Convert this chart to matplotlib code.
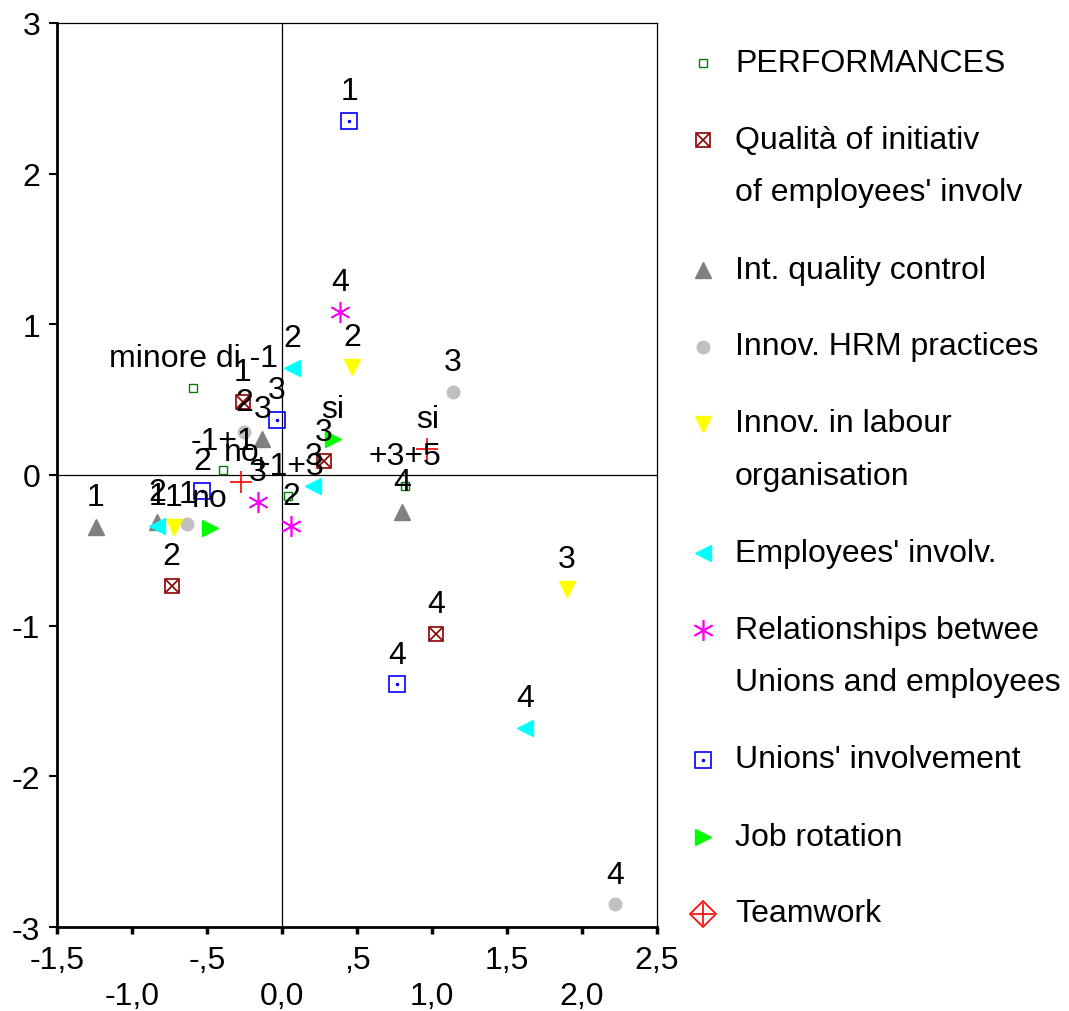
import matplotlib.pyplot as plt
from matplotlib.lines import Line2D

plt.rcParams['font.family'] = ['Liberation Sans', 'DejaVu Sans']

# category points
perf_x = [-0.59, -0.39, 0.04, 0.82]
perf_y = [0.58, 0.03, -0.14, -0.07]
perf_lab = ['minore di -1', '-1+1', '+1+3', '+3+5']

qual_x = [-0.26, -0.735, 0.28, 1.03]
qual_y = [0.485, -0.735, 0.09, -1.055]
qual_lab = ['1', '2', '3', '4']

iqc_x = [-1.24, -0.83, -0.13, 0.80]
iqc_y = [-0.345, -0.31, 0.24, -0.245]
iqc_lab = ['1', '2', '3', '4']

hrm_x = [-0.63, -0.25, 1.14, 2.22]
hrm_y = [-0.325, 0.285, 0.55, -2.85]
hrm_lab = ['1', '2', '3', '4']

lab_x = [-0.72, 0.47, 1.90]
lab_y = [-0.345, 0.715, -0.755]
lab_lab = ['1', '2', '3']

emp_x = [-0.83, 0.07, 0.21, 1.62]
emp_y = [-0.34, 0.71, -0.075, -1.68]
emp_lab = ['1', '2', '3', '4']

rel_x = [0.06, -0.16, 0.39]
rel_y = [-0.34, -0.18, 1.08]
rel_lab = ['2', '3', '4']

uni_x = [0.45, -0.53, -0.035, 0.77]
uni_y = [2.35, -0.105, 0.365, -1.39]
uni_lab = ['1', '2', '3', '4']

job_x = [-0.48, 0.34]
job_y = [-0.35, 0.24]
job_lab = ['no', 'si']

team_x = [-0.27, 0.97]
team_y = [-0.045, 0.175]
team_lab = ['no', 'si']

x_ticks = [-1.5, -1.0, -0.5, 0.0, 0.5, 1.0, 1.5, 2.0, 2.5]
x_tick_labels = ['-1,5', '\n-1,0', '-,5', '\n0,0', ',5', '\n1,0', '1,5', '\n2,0', '2,5']
y_ticks = [-3, -2, -1, 0, 1, 2, 3]

legend_labels = ['PERFORMANCES', "Qualità of initiativ\nof employees' involv",
                 'Int. quality control', 'Innov. HRM practices',
                 'Innov. in labour\norganisation', "Employees' involv.",
                 'Relationships betwee\nUnions and employees', "Unions' involvement",
                 'Job rotation', 'Teamwork']

FS = 23
W, H = 1069, 1012

fig = plt.figure(figsize=(W / 100, H / 100), dpi=100)
ax = fig.add_axes([0.0533, 0.083, 0.5613, 0.8933])

ax.axhline(0, color='black', lw=0.9, zorder=1)
ax.axvline(0, color='black', lw=0.9, zorder=1)

# marker styles, one list of Line2D kwargs per series (several = overlaid)
styles = [
    [dict(marker='s', ms=6, mfc='none', mec='#008000', mew=1)],
    [dict(marker='s', ms=10, mfc='none', mec='#8B0000', mew=1.2),
     dict(marker='x', ms=8, mec='#8B0000', mew=1.2)],
    [dict(marker='^', ms=12, color='#808080')],
    [dict(marker='o', ms=9, color='#C0C0C0')],
    [dict(marker='v', ms=12, color='#FFFF00')],
    [dict(marker='<', ms=12, color='#00FFFF')],
    [dict(marker=(6, 2, 0), ms=15, mec='#FF00FF', mew=1.2)],
    [dict(marker='s', ms=11, mfc='none', mec='#0000FF', mew=1.2),
     dict(marker='.', ms=3, color='#0000FF')],
    [dict(marker='>', ms=12, color='#00FF00')],
    [dict(marker='+', ms=16, mec='#FF0000', mew=1.2)],
]
legend_styles = list(styles)
legend_styles[9] = [dict(marker='D', ms=13, mfc='none', mec='#FF0000', mew=1.2),
                    dict(marker='+', ms=16, mec='#FF0000', mew=1.2)]

series = [(perf_x, perf_y, perf_lab), (qual_x, qual_y, qual_lab),
          (iqc_x, iqc_y, iqc_lab), (hrm_x, hrm_y, hrm_lab),
          (lab_x, lab_y, lab_lab), (emp_x, emp_y, emp_lab),
          (rel_x, rel_y, rel_lab), (uni_x, uni_y, uni_lab),
          (job_x, job_y, job_lab), (team_x, team_y, team_lab)]

for (xs, ys, labs), style in zip(series, styles):
    for st in style:
        ax.plot(xs, ys, ls='none', zorder=3, **st)
    for x, y, t in zip(xs, ys, labs):
        ax.annotate(t, (x, y), xytext=(0, 21.5), textcoords='offset points',
                    ha='center', va='center', fontsize=FS, zorder=5)

ax.set_xlim(-1.5, 2.5)
ax.set_ylim(-3, 3)
ax.set_xticks(x_ticks)
ax.set_xticklabels(x_tick_labels)
ax.set_yticks(y_ticks)
ax.set_yticklabels([str(v) for v in y_ticks])
ax.tick_params(axis='x', length=5, width=2.5, pad=8, labelsize=FS)
ax.tick_params(axis='y', length=6, width=1.5, pad=6, labelsize=FS)
for t in ax.get_xticklabels():
    t.set_linespacing(1.25)
for side in ['left', 'bottom']:
    ax.spines[side].set_linewidth(2)
for side in ['top', 'right']:
    ax.spines[side].set_linewidth(0.9)

# legend on the right: marker next to the first line of each label
mark_x, text_x = 703 / W, 735 / W
y_px = 64
for label, style in zip(legend_labels, legend_styles):
    for st in style:
        fig.add_artist(Line2D([mark_x], [1 - y_px / H], transform=fig.transFigure,
                              ls='none', **st))
    lines = label.split('\n')
    for i, line in enumerate(lines):
        fig.text(text_x, 1 - (y_px + 52.5 * i) / H, line, fontsize=FS,
                 ha='left', va='center')
    y_px += 52.5 * (len(lines) - 1) + 77

fig.savefig('out.png', dpi=100)
